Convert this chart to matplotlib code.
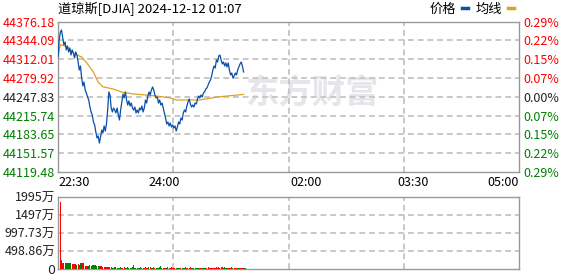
import numpy as np
import matplotlib.pyplot as plt
from matplotlib.lines import Line2D

plt.rcParams['font.family'] = ['Noto Sans CJK SC', 'DejaVu Sans']

# --- data ---
prev_close = 44247.83
price_ticks = [44119.48, 44151.57, 44183.65, 44215.74, 44247.83,
               44279.92, 44312.01, 44344.09, 44376.18]
time_ticks = [0, 90, 210, 300, 390]
time_labels = ['22:30', '24:00', '02:00', '03:30', '05:00']
grid_minutes = [97.5, 195, 292.5]
vol_ticks = [0, 498.86, 997.73, 1497, 1995]
vol_labels = ['0', '498.86万', '997.73万', '1497万', '1995万']

# one value per minute from 22:30 to 01:07
price = [
    44315.9, 44344.9, 44358.6, 44362.0, 44348.4, 44336.4, 44341.5, 44327.9, 44334.7, 44324.4,
    44331.3, 44319.3, 44327.9, 44322.7, 44314.2, 44324.4, 44319.3, 44307.4, 44293.7, 44300.5,
    44280.0, 44266.4, 44273.2, 44259.5, 44254.4, 44247.6, 44242.5, 44230.5, 44222.0, 44216.8,
    44204.9, 44199.8, 44187.8, 44177.6, 44181.0, 44169.0, 44179.3, 44191.2, 44186.1, 44198.1,
    44189.5, 44201.5, 44225.4, 44256.1, 44251.0, 44228.8, 44222.0, 44228.8, 44225.4, 44220.3,
    44228.8, 44216.8, 44208.3, 44225.4, 44239.0, 44252.7, 44245.9, 44256.1, 44242.5, 44233.9,
    44240.8, 44232.2, 44237.3, 44228.8, 44225.4, 44230.5, 44220.3, 44225.4, 44220.3, 44228.8,
    44225.4, 44232.2, 44222.0, 44228.8, 44242.5, 44237.3, 44249.3, 44256.1, 44251.0, 44259.5,
    44264.7, 44259.5, 44251.0, 44245.9, 44247.6, 44237.3, 44242.5, 44233.9, 44237.3, 44228.8,
    44220.3, 44211.7, 44201.5, 44204.9, 44198.1, 44203.2, 44196.3, 44199.8, 44194.6, 44198.1,
    44189.5, 44196.3, 44204.9, 44201.5, 44211.7, 44208.3, 44220.3, 44225.4, 44222.0, 44232.2,
    44239.0, 44244.2, 44235.6, 44230.5, 44233.9, 44230.5, 44237.3, 44235.6, 44244.2, 44249.3,
    44245.9, 44251.0, 44247.6, 44254.4, 44256.1, 44261.3, 44263.0, 44268.1, 44273.2, 44276.6,
    44283.5, 44293.7, 44300.5, 44297.1, 44310.8, 44307.4, 44317.6, 44319.3, 44310.8, 44304.0,
    44307.4, 44300.5, 44305.7, 44298.8, 44305.7, 44293.7, 44285.2, 44288.6, 44280.0, 44283.5,
    44288.6, 44285.2, 44293.7, 44298.8, 44304.0, 44307.4, 44300.5, 44290.3,
]

avg_minutes = [0, 2, 8, 14, 20, 25, 30, 34, 38, 47, 54, 63, 74, 84, 95, 100, 120, 135, 157]
avg_price = [44315.9, 44337.0, 44333.0, 44321.0, 44316.0, 44304.0, 44290.0, 44273.0, 44265.0,
             44261.0, 44256.0, 44253.0, 44251.0, 44249.0, 44246.0, 44242.5, 44242.5, 44247.6, 44252.0]

# volume in 万
volume = [
    1866, 230, 150, 160, 150, 140, 160, 140, 140, 140,
    130, 120, 120, 120, 90, 120, 110, 140, 140, 140,
    140, 60, 65, 65, 65, 85, 60, 90, 90, 90,
    110, 60, 80, 64, 64, 64, 30, 35, 30, 30,
    55, 55, 30, 55, 27, 27, 30, 55, 27, 27,
    27, 40, 27, 27, 45, 27, 27, 30, 27, 27,
    27, 30, 110, 27, 27, 27, 27, 27, 30, 27,
    27, 27, 40, 27, 27, 45, 45, 27, 27, 55,
    27, 27, 27, 27, 55, 80, 27, 27, 27, 27,
    27, 30, 27, 27, 50, 27, 27, 27, 27, 27,
    27, 27, 27, 27, 27, 27, 45, 27, 27, 27,
    30, 27, 27, 27, 27, 27, 27, 27, 27, 27,
    27, 27, 27, 27, 27, 30, 27, 27, 27, 27,
    27, 27, 30, 27, 50, 27, 40, 55, 27, 55,
    27, 27, 27, 27, 27, 30, 27, 27, 27, 27,
    27, 27, 27, 27, 27, 27, 27, 27,
]

RED = '#ff0000'
GREEN = '#008000'
GRID = '#c8c8c8'
SPINE = '#999999'

minutes = np.arange(len(price))
diffs = np.diff(price, prepend=price[0])
bar_colors = [RED if d >= 0 else GREEN for d in diffs]

fig = plt.figure(figsize=(5.78, 2.76), dpi=100)
W, H = 578, 276

def box(l, t, r, b):
    return [l / W, 1 - b / H, (r - l) / W, (b - t) / H]

ax = fig.add_axes(box(58, 21.7, 519, 172))
axv = fig.add_axes(box(58, 197, 519, 268.5))

# watermark
ax.text(0.55, 0.52, '东方财富', transform=ax.transAxes, fontsize=24, fontweight='bold',
        color='#e6e6ea', ha='center', va='center', zorder=0)

ax.plot(minutes, price, color='#0a4fa8', lw=0.9, zorder=3)
ax.plot(avg_minutes, avg_price, color='#e0a020', lw=0.9, zorder=2)

ax.set_xlim(0, 390)
ax.set_ylim(price_ticks[0], price_ticks[-1])

# volume
axv.bar(minutes + 1.5, volume, width=0.9, align='edge', color=bar_colors, zorder=3)
axv.set_xlim(0, 390)
axv.set_ylim(0, vol_ticks[-1])

grid_kw = dict(color=GRID, lw=1.4, ls=(0, (3, 2)), zorder=1.5)

for a, hticks in ((ax, price_ticks[1:-1]), (axv, vol_ticks[1:-1])):
    for s in a.spines.values():
        s.set_color(SPINE)
        s.set_linewidth(1)
    for q in grid_minutes:
        a.axvline(q, **grid_kw)
    for t in hticks:
        a.axhline(t, **grid_kw)
    a.tick_params(which='both', length=0)

def tick_color(t):
    if abs(t - prev_close) < 0.01:
        return '#222222'
    return RED if t > prev_close else GREEN

ax.set_yticks(price_ticks)
ax.set_yticklabels([f'{t:.2f}' for t in price_ticks], fontsize=9)
for lab, t in zip(ax.get_yticklabels(), price_ticks):
    lab.set_color(tick_color(t))
ax.tick_params(axis='y', pad=2)

ax.set_xticks(time_ticks)
ax.set_xticklabels(time_labels, fontsize=9)
ax.tick_params(axis='x', pad=3)
xl = ax.get_xticklabels()
xl[0].set_ha('left')
xl[-1].set_ha('right')

axr = ax.twinx()
axr.set_ylim(ax.get_ylim())
axr.set_yticks(price_ticks)
axr.set_yticklabels([f'{abs(t - prev_close) / prev_close * 100:.2f}%' for t in price_ticks], fontsize=9)
for lab, t in zip(axr.get_yticklabels(), price_ticks):
    lab.set_color(tick_color(t))
axr.tick_params(length=0, pad=3)
for s in axr.spines.values():
    s.set_visible(False)

axv.set_xticks([])
axv.set_yticks(vol_ticks)
axv.set_yticklabels(vol_labels, fontsize=9, color='#222222')
axv.tick_params(axis='y', pad=2)
axv.get_yticklabels()[0].set_family('DejaVu Sans')

# title and legend
fig.text(58 / W, 1 - 9 / H, '道琼斯[DJIA] 2024-12-12 01:07', fontsize=9.5, va='center', ha='left')
fig.text(443 / W, 1 - 9 / H, '价格', fontsize=9.5, va='center', ha='center')
fig.text(489 / W, 1 - 9 / H, '均线', fontsize=9.5, va='center', ha='center')
fig.add_artist(Line2D([462 / W, 468 / W], [1 - 8 / H] * 2, color='#0a4fa8', lw=2.5))
fig.add_artist(Line2D([508 / W, 514 / W], [1 - 8 / H] * 2, color='#e0a020', lw=2.5))

fig.savefig('out.png', dpi=100)
